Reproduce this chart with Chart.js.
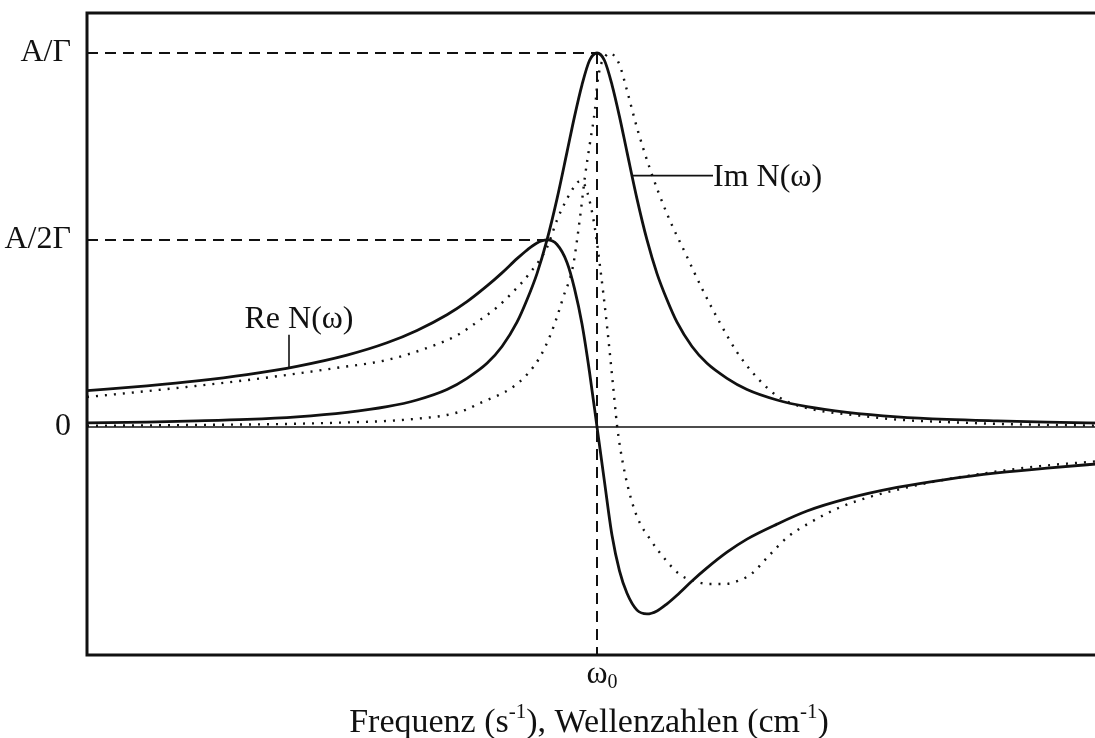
<!DOCTYPE html>
<html>
<head>
<meta charset="utf-8">
<script src="https://cdn.jsdelivr.net/npm/chart.js@4.4.1/dist/chart.umd.min.js"></script>
<style>
  html, body { margin: 0; padding: 0; background: #fff; overflow: hidden; }
  #wrap { width: 1115px; height: 738px; }
</style>
</head>
<body>
<div id="wrap"><canvas id="c" width="1115" height="738"></canvas></div>
<script>
// frequency in units of Γ relative to ω0, amplitude in units of A/Γ
const imSolidX = [-10.2, -9, -8, -7, -6, -5, -4.2, -3.6, -3.0, -2.6, -2.2, -1.9, -1.6, -1.4, -1.2, -1.0, -0.8, -0.6,
  -0.45, -0.3, -0.15, 0, 0.15, 0.3, 0.45, 0.6, 0.8, 1.0, 1.2, 1.4, 1.6, 1.9, 2.2, 2.6, 3.0, 3.6, 4.2, 5, 6, 7, 8, 9, 10.2]
const imSolidY = [0.011, 0.013, 0.016, 0.020, 0.027, 0.039, 0.054, 0.072, 0.10, 0.13, 0.17, 0.215, 0.28, 0.34, 0.41,
  0.50, 0.61, 0.735, 0.83, 0.915, 0.98, 1.0, 0.98, 0.915, 0.83, 0.735, 0.61, 0.50, 0.41, 0.34, 0.28, 0.215, 0.17,
  0.13, 0.10, 0.072, 0.054, 0.039, 0.027, 0.020, 0.016, 0.013, 0.010]

const reSolidX = [-10.2, -9, -8, -7, -6, -5, -4.2, -3.6, -3.0, -2.6, -2.2, -1.9, -1.6, -1.4, -1.2, -1.0, -0.8, -0.6,
  -0.45, -0.3, -0.15, 0, 0.15, 0.3, 0.45, 0.6, 0.8, 1.0, 1.2, 1.4, 1.6, 1.9, 2.2, 2.6, 3.0, 3.6, 4.2, 5, 6, 7, 8, 9, 10.2]
const reSolidY = [0.097, 0.11, 0.123, 0.14, 0.162, 0.192, 0.225, 0.258, 0.30, 0.335, 0.377, 0.412, 0.45, 0.473, 0.492,
  0.50, 0.488, 0.44, 0.37, 0.275, 0.147, 0, -0.147, -0.29, -0.385, -0.445, -0.49, -0.50, -0.492, -0.473, -0.45,
  -0.412, -0.377, -0.335, -0.30, -0.26, -0.225, -0.192, -0.162, -0.14, -0.123, -0.11, -0.097]

// dotted pair
const imDotX = [-10.2, -8.2, -6.2, -5, -4.2, -3.6, -3.0, -2.6, -2.34, -2.0, -1.68, -1.4, -1.14, -0.95, -0.8, -0.68,
  -0.48, -0.34, -0.24, -0.14, -0.04, 0, 0.06, 0.16, 0.26, 0.36, 0.46, 0.6, 0.8, 1.06, 1.4, 1.8, 2.1, 2.46, 2.8,
  3.12, 3.4, 3.6, 3.85, 4.12, 4.6, 5.12, 6.06, 7, 8.06, 10.2]
const imDotY = [0.003, 0.005, 0.008, 0.012, 0.016, 0.022, 0.032, 0.047, 0.064, 0.083, 0.107, 0.14, 0.187, 0.24,
  0.294, 0.345, 0.43, 0.56, 0.67, 0.76, 0.85, 0.91, 0.96, 0.99, 1.0, 0.99, 0.965, 0.90, 0.80, 0.69, 0.57, 0.455,
  0.37, 0.278, 0.20, 0.144, 0.105, 0.083, 0.065, 0.053, 0.04, 0.032, 0.019, 0.013, 0.008, 0.003]

const reDotX = [-10.2, -9.2, -8.2, -7.2, -6.2, -5.2, -4.2, -3.34, -2.8, -2.34, -2.0, -1.68, -1.34, -1.0, -0.8, -0.6,
  -0.44, -0.34, -0.24, -0.14, -0.04, 0.06, 0.2, 0.32, 0.4, 0.46, 0.6, 0.8, 1.06, 1.4, 1.66, 1.96, 2.26, 2.56,
  2.86, 3.1, 3.4, 3.8, 4.26, 4.86, 5.46, 6.1, 6.72, 8.06, 9.0, 10.2]
const reDotY = [0.080, 0.093, 0.107, 0.122, 0.139, 0.158, 0.179, 0.214, 0.245, 0.286, 0.32, 0.361, 0.412, 0.48,
  0.553, 0.61, 0.645, 0.658, 0.645, 0.6, 0.53, 0.43, 0.27, 0.112, 0.005, -0.053, -0.15, -0.24, -0.30, -0.36,
  -0.395, -0.413, -0.42, -0.42, -0.41, -0.392, -0.35, -0.296, -0.256, -0.215, -0.187, -0.165, -0.147, -0.118,
  -0.103, -0.09]

const yTicks = [0, 0.5, 1]
const yTickLabels = ['0', 'A/2Γ', 'A/Γ']

const omega0 = 0
const rePeak = {x: -1, y: 0.5}
const imPeak = {x: 0, y: 1}
const reLabel = {x: -6.16, y: 0.158, text: 'Re N(ω)'}
const imLabel = {x: 0.72, y: 0.672, text: 'Im N(ω)'}

const serif = '"Liberation Serif", "Times New Roman", serif'
const ink = '#111'

const pts = (xs, ys) => xs.map((x, i) => ({x, y: ys[i]}))

const line = (data, dotted) => ({
  data: data,
  showLine: true,
  borderColor: ink,
  borderWidth: dotted ? 2.4 : 2.8,
  borderDash: dotted ? [2, 7] : [],
  pointRadius: 0,
  cubicInterpolationMode: 'monotone',
  fill: false
})

// draws text with raised "sup" parts, centred on cx
function richText(ctx, parts, cx, base, size) {
  const small = Math.round(size * 0.62)
  const w = parts.map(p => {
    ctx.font = (p.sup ? small : size) + 'px ' + serif
    return ctx.measureText(p.t).width
  })
  let x = cx - w.reduce((a, b) => a + b, 0) / 2
  parts.forEach((p, i) => {
    ctx.font = (p.sup ? small : size) + 'px ' + serif
    ctx.fillText(p.t, x, base + (p.sup ? -size * 0.4 : 0))
    x += w[i]
  })
}

const decor = {
  id: 'decor',
  beforeDatasetsDraw(chart) {
    const {ctx, chartArea: a, scales: {x, y}} = chart
    ctx.save()
    ctx.strokeStyle = ink
    // zero line
    ctx.lineWidth = 1.5
    ctx.beginPath()
    ctx.moveTo(a.left, y.getPixelForValue(0))
    ctx.lineTo(a.right, y.getPixelForValue(0))
    ctx.stroke()
    // guides to the two maxima and down to ω0
    ctx.lineWidth = 2
    ctx.setLineDash([11, 7])
    ctx.beginPath()
    ctx.moveTo(a.left, y.getPixelForValue(imPeak.y))
    ctx.lineTo(x.getPixelForValue(imPeak.x), y.getPixelForValue(imPeak.y))
    ctx.moveTo(a.left, y.getPixelForValue(rePeak.y))
    ctx.lineTo(x.getPixelForValue(rePeak.x), y.getPixelForValue(rePeak.y))
    ctx.moveTo(x.getPixelForValue(omega0), y.getPixelForValue(imPeak.y))
    ctx.lineTo(x.getPixelForValue(omega0), a.bottom)
    ctx.stroke()
    ctx.restore()
  },
  afterDatasetsDraw(chart) {
    const {ctx, chartArea: a, scales: {x, y}} = chart
    ctx.save()
    ctx.strokeStyle = ink
    ctx.fillStyle = ink
    ctx.setLineDash([])

    // frame
    ctx.lineWidth = 3
    ctx.strokeRect(a.left, a.top, a.right - a.left, a.bottom - a.top)

    // curve labels with leaders
    ctx.lineWidth = 1.6
    const rx = x.getPixelForValue(reLabel.x), ry = y.getPixelForValue(reLabel.y)
    ctx.beginPath()
    ctx.moveTo(rx, ry)
    ctx.lineTo(rx, ry - 33)
    ctx.stroke()
    ctx.font = '32px ' + serif
    ctx.textAlign = 'center'
    ctx.textBaseline = 'alphabetic'
    ctx.fillText(reLabel.text, rx + 10, ry - 40)

    const ix = x.getPixelForValue(imLabel.x), iy = y.getPixelForValue(imLabel.y)
    ctx.beginPath()
    ctx.moveTo(ix, iy)
    ctx.lineTo(ix + 80, iy)
    ctx.stroke()
    ctx.textAlign = 'left'
    ctx.fillText(imLabel.text, ix + 80, iy + 10)

    // ω0 under the axis
    const ox = x.getPixelForValue(omega0)
    ctx.font = '32px ' + serif
    const ww = ctx.measureText('ω').width
    ctx.fillText('ω', ox - ww / 2, a.bottom + 28)
    ctx.font = '20px ' + serif
    ctx.fillText('0', ox + ww / 2, a.bottom + 33)

    // axis title
    richText(ctx, [
      {t: 'Frequenz (s'}, {t: '-1', sup: true}, {t: '), Wellenzahlen (cm'}, {t: '-1', sup: true}, {t: ')'}
    ], (a.left + a.right) / 2 - 8, a.bottom + 77, 34)
    ctx.restore()
  }
}

new Chart(document.getElementById('c').getContext('2d'), {
  type: 'scatter',
  data: {
    datasets: [
      line(pts(imDotX, imDotY), true),
      line(pts(reDotX, reDotY), true),
      line(pts(imSolidX, imSolidY), false),
      line(pts(reSolidX, reSolidY), false)
    ]
  },
  options: {
    responsive: false,
    animation: false,
    layout: {padding: {top: 13, right: 8, bottom: 83, left: 0}},
    plugins: {legend: {display: false}, tooltip: {enabled: false}},
    scales: {
      x: {type: 'linear', min: -10.2, max: 10.2, display: false},
      y: {
        type: 'linear', min: -0.61, max: 1.107,
        grid: {display: false},
        border: {display: false},
        afterBuildTicks: s => { s.ticks = yTicks.map(v => ({value: v})) },
        afterFit: s => { s.width = 87; s.paddingTop = 0; s.paddingBottom = 0 },
        ticks: {
          color: ink,
          padding: 8,
          font: {family: serif, size: 32},
          callback: v => yTickLabels[yTicks.indexOf(v)]
        }
      }
    }
  },
  plugins: [decor]
})
</script>
</body>
</html>
